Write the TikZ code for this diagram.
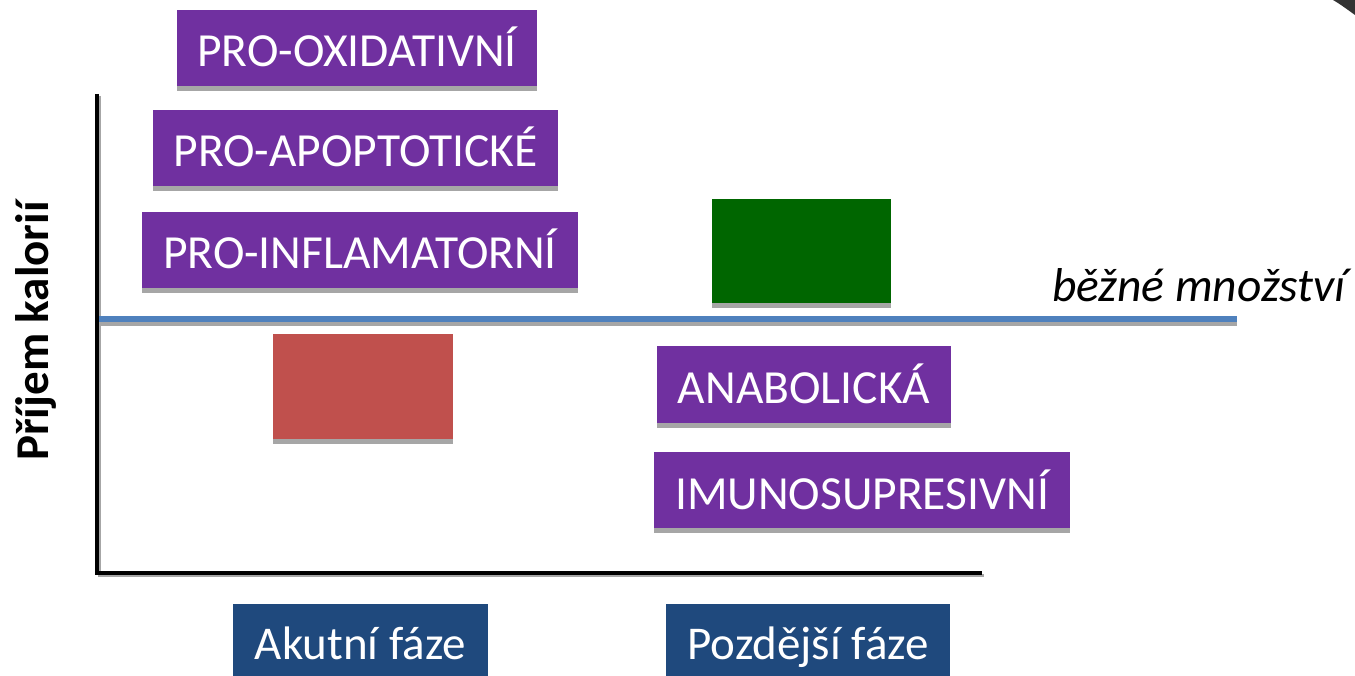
\documentclass[tikz,border=0pt]{standalone}
\usepackage{fontspec}
\setmainfont{Carlito}
\definecolor{purp}{HTML}{7030A0}
\definecolor{grn}{HTML}{006600}
\definecolor{redb}{HTML}{C0504D}
\definecolor{navy}{HTML}{1F497D}
\definecolor{lineblue}{HTML}{4F81BD}
\definecolor{shad}{HTML}{A6A6A6}
\tikzset{
  shadowed/.style={preaction={fill=shad, transform canvas={yshift=-5pt}}},
  pbox/.style={shadowed, fill=purp, text=white, inner sep=0pt, font=\fontsize{47.5}{52}\selectfont, text height=38pt, text depth=0pt, minimum height=76pt},
  cbox/.style={shadowed, inner sep=0pt},
  nbox/.style={fill=navy, text=white, inner sep=0pt, font=\fontsize{47}{52}\selectfont, text height=35pt, text depth=0pt, minimum height=76pt},
}
\begin{document}
\begin{tikzpicture}[x=1pt,y=-1pt]
\useasboundingbox (0,0) rectangle (1355,676);
% top-right corner fragment
\fill[black!80] (1333,0) -- (1355,0) -- (1355,15) .. controls (1348,10) and (1340,4) .. cycle;
% axes
\draw[shad, line width=3pt] (99,96) -- (99,575) -- (984,575);
\draw[black, line width=3.5pt] (97,94) -- (97,573) -- (982,573);
% normal level line
\draw[shad, line width=4pt] (99,324) -- (1237,324);
\draw[lineblue, line width=6pt] (99,319) -- (1237,319);
% purple boxes
\node[pbox, minimum width=360pt] (ox) at (357,48) {PRO-OXIDATIVNÍ};
\node[pbox, minimum width=405pt] (ap) at (355.5,148) {PRO-APOPTOTICKÉ};
\node[pbox, minimum width=436pt] (inf) at (360,250) {PRO-INFLAMATORNÍ};
\node[pbox, minimum width=294pt, minimum height=77pt] (ana) at (804,384.5) {ANABOLICKÁ};
\node[pbox, minimum width=416pt] (imu) at (862,490) {IMUNOSUPRESIVNÍ};
% coloured blocks
\node[cbox, fill=grn, minimum width=179pt, minimum height=104pt] (green) at (801.5,251) {};
\node[cbox, fill=redb, minimum width=180pt, minimum height=105pt] (red) at (363,386.5) {};
% label of the line
\node[anchor=base west, inner sep=0pt, font=\fontsize{47.5}{52}\selectfont\itshape] (norm) at (1052,302) {běžné množství};
% y axis label
\node[rotate=90, inner sep=0pt, font=\fontsize{47}{52}\selectfont\bfseries] (ylab) at (36,331) {Příjem kalorií};
% phase boxes
\node[nbox, minimum width=255pt] (ak) at (360.5,642) {Akutní fáze};
\node[nbox, minimum width=284pt] (poz) at (808,642) {Pozdější fáze};
\end{tikzpicture}
\end{document}
